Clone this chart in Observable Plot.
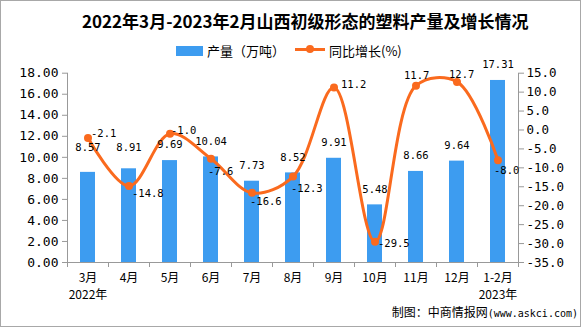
<!DOCTYPE html>
<html><head><meta charset="utf-8">
<script src="https://cdn.jsdelivr.net/npm/d3@7"></script>
<script src="https://cdn.jsdelivr.net/npm/@observablehq/plot@0.6"></script>
<style>
body{margin:0;background:#fff;}
#wrap{position:relative;width:587px;height:327px;overflow:hidden;font-family:"Noto Sans CJK SC",sans-serif;color:#000;}
#border{position:absolute;left:0;top:0;width:581px;height:327px;border:1px solid #a8a8a8;box-sizing:border-box;pointer-events:none;}
#chart{position:absolute;left:0;top:0;}
.abs{position:absolute;white-space:nowrap;line-height:1;}
#title{left:82px;top:11.5px;font-size:17px;font-weight:bold;}
#lg1sw{left:176px;top:46px;width:27px;height:10px;background:#3d9cf0;}
#lg1{left:207px;top:43.5px;font-size:13px;}
#lg2ln{left:295px;top:47.5px;width:30px;height:3px;background:#fa6a1e;}
#lg2dot{left:306px;top:45px;width:8px;height:8px;border-radius:50%;background:#fa6a1e;}
#lg2{left:329px;top:43.5px;font-size:13px;}
#cap{right:9px;top:306px;font-size:12px;}
#cap span{font-family:"DejaVu Sans Mono",monospace;font-size:10px;}
</style></head>
<body>
<div id="wrap">
  <div id="chart"></div>
  <div class="abs" id="title">2022年3月-2023年2月山西初级形态的塑料产量及增长情况</div>
  <div class="abs" id="lg1sw"></div><div class="abs" id="lg1">产量（万吨）</div>
  <div class="abs" id="lg2ln"></div><div class="abs" id="lg2dot"></div><div class="abs" id="lg2">同比增长(%)</div>
  <div class="abs" id="cap">制图：中商情报网<span>(www.askci.com)</span></div>
  <div id="border"></div>
</div>
<script>
// ---- data ----
const months = ["3月","4月","5月","6月","7月","8月","9月","10月","11月","12月","1-2月"];
const yearLabels = ["2022年","","","","","","","","","","2023年"];
const output = [8.57, 8.91, 9.69, 10.04, 7.73, 8.52, 9.91, 5.48, 8.66, 9.64, 17.31];
const growth = [-2.1, -14.8, -1.0, -7.6, -16.6, -12.3, 11.2, -29.5, 11.7, 12.7, -8.0];
const leftTicks = [0, 2, 4, 6, 8, 10, 12, 14, 16, 18];
const rightTicks = [-35, -30, -25, -20, -15, -10, -5, 0, 5, 10, 15];

// ---- styling ----
const BLUE = "#3d9cf0", ORANGE = "#fa6a1e", AXIS = "#999";
const MONO = "DejaVu Sans Mono, monospace";
const CJK = "Noto Sans CJK SC, sans-serif";
const lineLabelDx = [3, 3, 1, -3, -2, -2, 7, 3, -12, -8, -4];
const lineLabelDy = [-4, 7.5, -3, 13, 9, 12, -3, 2, -10, -7, 10];
const barLabelShift = [-9, -6, 0, 0, 0, 0, 0, 0, 0, 0, 0];

const leftMax = leftTicks[leftTicks.length - 1];
const rMin = rightTicks[0], rMax = rightTicks[rightTicks.length - 1];
const toLeft = v => (v - rMin) / (rMax - rMin) * leftMax;
const fromLeft = v => v / leftMax * (rMax - rMin) + rMin;

const data = months.map((m, i) => ({m, out: output[i], g: growth[i], yr: yearLabels[i], i}));
const yearOf = Object.fromEntries(data.map(d => [d.m, d.yr]));

const W = 587, H = 327, mL = 67, mR = 69, mT = 72.7, mB = 65;
const step = (W - mL - mR) / months.length;

const plot = Plot.plot({
  width: W, height: H,
  marginLeft: mL, marginRight: mR, marginTop: mT, marginBottom: mB,
  style: {fontFamily: MONO, fontSize: "13px", color: "#000", background: "transparent"},
  x: {domain: months, paddingInner: 0.634, paddingOuter: 0.317, axis: null},
  y: {domain: [0, leftMax], axis: null},
  marks: [
    Plot.barY(data, {x: "m", y: "out", fill: BLUE}),
    Plot.ruleY([0], {stroke: AXIS}),
    Plot.ruleX([months[0]], {x: d => d, dx: -step / 2, stroke: AXIS}),
    Plot.ruleX([months[months.length - 1]], {x: d => d, dx: step / 2, stroke: AXIS}),
    Plot.ruleX(months, {x: d => d, y1: 0, y2: 0, dx: -step / 2, insetBottom: -5, stroke: AXIS}),
    Plot.ruleX([months[months.length - 1]], {x: d => d, y1: 0, y2: 0, dx: step / 2, insetBottom: -5, stroke: AXIS}),
    Plot.axisY(leftTicks, {anchor: "left", label: null, tickSize: 5, tickPadding: 4, stroke: AXIS,
      tickFormat: d => d.toFixed(2), fontSize: 13, fontFamily: MONO, fill: "#000"}),
    Plot.axisY(rightTicks.map(toLeft), {anchor: "right", label: null, tickSize: 5, tickPadding: 3, stroke: AXIS,
      tickFormat: d => (Math.round(fromLeft(d) * 10) / 10 + 0).toFixed(1), fontSize: 12.5, fontFamily: MONO, fill: "#000"}),
    Plot.axisX(months, {anchor: "bottom", label: null, tickSize: 0, tickPadding: 10.5,
      fontSize: 12, fontFamily: CJK, fill: "#000"}),
    Plot.axisX(months.filter(m => yearOf[m]), {anchor: "bottom", label: null, tickSize: 0, tickPadding: 28,
      tickFormat: d => yearOf[d], fontSize: 12, fontFamily: CJK, fill: "#000"}),
    Plot.line(data, {x: "m", y: d => toLeft(d.g), stroke: ORANGE, strokeWidth: 3, curve: "catmull-rom"}),
    Plot.dot(data, {x: "m", y: d => toLeft(d.g), r: 4, fill: ORANGE}),
    ...data.map(d => Plot.text([d], {x: "m", y: "out", text: e => e.out.toFixed(2),
      dy: -15.5 + barLabelShift[d.i], fontSize: 10.5, fontFamily: MONO, fill: "#000"})),
    ...data.map(d => Plot.text([d], {x: "m", y: e => toLeft(e.g), text: e => e.g.toFixed(1),
      textAnchor: "start", dx: lineLabelDx[d.i], dy: lineLabelDy[d.i], fontSize: 10.5, fontFamily: MONO, fill: "#000"}))
  ]
});
document.getElementById("chart").appendChild(plot);
</script>
</body></html>
